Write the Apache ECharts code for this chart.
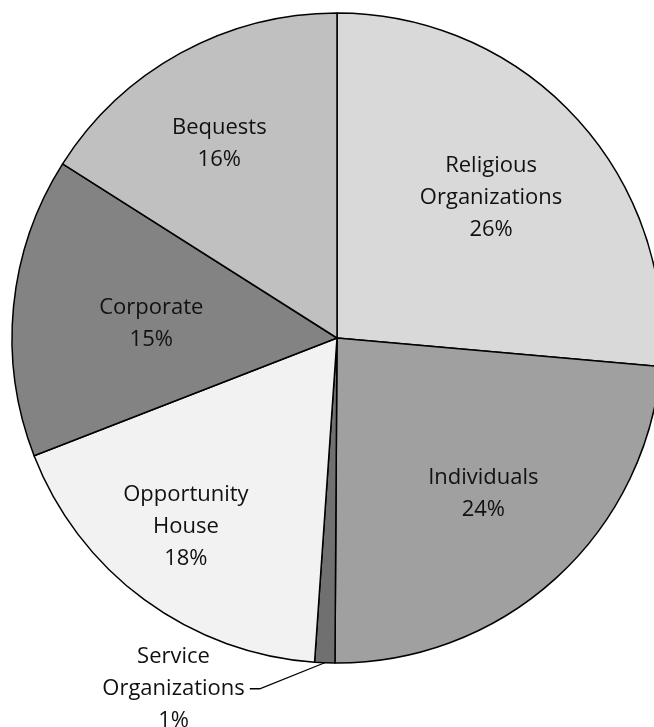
<!DOCTYPE html>
<html>
<head>
<meta charset="utf-8">
<script src="https://cdn.jsdelivr.net/npm/echarts@6/dist/echarts.min.js"></script>
<style>
html,body{margin:0;padding:0;background:#fff;}
#chart{width:654px;height:727px;}
</style>
</head>
<body>
<div id="chart"></div>
<script>
// Data (clockwise from 12 o'clock)
const categories = ['Religious Organizations', 'Individuals', 'Service Organizations', 'Opportunity House', 'Corporate', 'Bequests'];
const values = [26.4, 23.7, 1.0, 18.0, 14.9, 16.0];

// Styling
const colors = ['#d9d9d9', '#a0a0a0', '#707070', '#f2f2f2', '#838383', '#c0c0c0'];
const outsideIndex = 2;
// label nudges relative to the library's inside label anchor
const labelNudge = [[32, -28], [35, 33], [0, 0], [-53, 55], [-21, 2], [-38, -49]];

const chart = echarts.init(document.getElementById('chart'), null, {renderer: 'canvas'});

const data = categories.map((name, i) => {
  const item = { name: name, value: values[i], itemStyle: { color: colors[i] } };
  if (i === outsideIndex) {
    item.label = { position: 'outside' };
    item.labelLine = { show: true, length: 26, length2: 74, lineStyle: { color: '#000', width: 1.3 } };
  }
  return item;
});

chart.setOption({
  backgroundColor: '#ffffff',
  animation: false,
  series: [{
    type: 'pie',
    center: [337, 338],
    radius: 325,
    startAngle: 90,
    clockwise: true,
    avoidLabelOverlap: false,
    data: data,
    itemStyle: { borderColor: '#000', borderWidth: 1.5 },
    label: {
      show: true,
      position: 'inside',
      fontFamily: 'Open Sans',
      fontSize: 22,
      lineHeight: 32,
      color: '#111',
      align: 'center',
      formatter: function (p) {
        return p.name.split(' ').join('\n') + '\n' + Math.round(p.percent) + '%';
      }
    },
    labelLine: { show: false },
    emphasis: { disabled: true },
    labelLayout: function (params) {
      const i = params.dataIndex;
      if (i === outsideIndex) {
        const pts = params.labelLinePoints;
        const r = params.labelRect;
        const out = { x: r.x + r.width / 2, align: 'center' };
        if (pts && pts.length === 3) {
          pts[1] = [pts[2][0] + 10, pts[2][1]];
          out.labelLinePoints = pts;
        }
        return out;
      }
      return { dx: labelNudge[i][0], dy: labelNudge[i][1] };
    }
  }]
});
</script>
</body>
</html>
